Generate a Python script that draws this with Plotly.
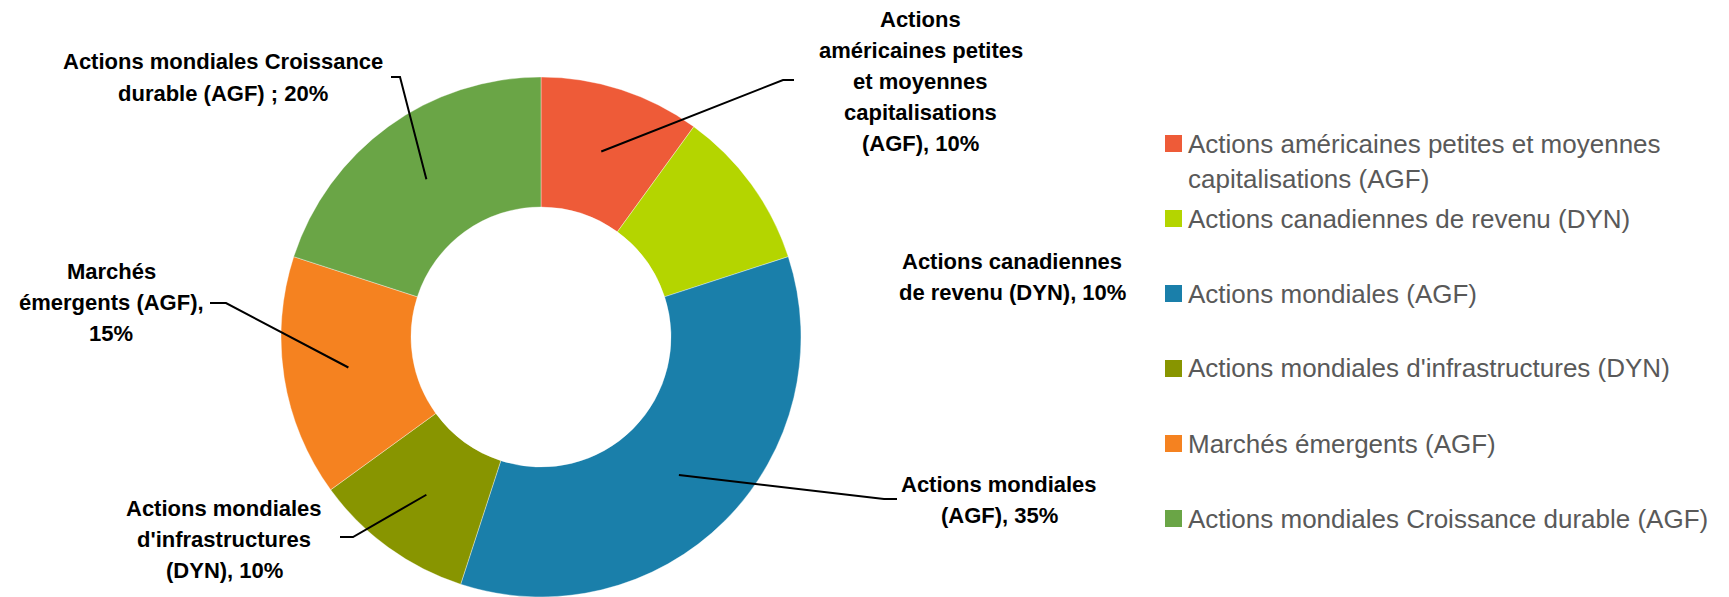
import math
import plotly.graph_objects as go

# screen window is 1729x597; the page body has an 8px margin
SW, SH, OFF = 1729, 597, 8
W, H = SW - OFF, SH - OFF

categories = [
    "Actions américaines petites et moyennes capitalisations (AGF)",
    "Actions canadiennes de revenu (DYN)",
    "Actions mondiales (AGF)",
    "Actions mondiales d'infrastructures (DYN)",
    "Marchés émergents (AGF)",
    "Actions mondiales Croissance durable (AGF)",
]
values = [10, 10, 35, 10, 15, 20]
colors = ["#EE5B38", "#B4D500", "#1A7FAA", "#889500", "#F58220", "#6AA546"]

legend_lines = [
    ["Actions américaines petites et moyennes", "capitalisations (AGF)"],
    ["Actions canadiennes de revenu (DYN)"],
    ["Actions mondiales (AGF)"],
    ["Actions mondiales d'infrastructures (DYN)"],
    ["Marchés émergents (AGF)"],
    ["Actions mondiales Croissance durable (AGF)"],
]
data_labels = [
    ["Actions", "américaines petites", "et moyennes", "capitalisations", "(AGF), 10%"],
    ["Actions canadiennes", "de revenu (DYN), 10%"],
    ["Actions mondiales", "(AGF), 35%"],
    ["Actions mondiales", "d'infrastructures", "(DYN), 10%"],
    ["Marchés", "émergents (AGF),", "15%"],
    ["Actions mondiales Croissance", "durable (AGF) ; 20%"],
]

# layout (screen pixels)
CX, CY, R = 541, 337, 260
label_pos = [(921, 81.5), (1012, 277), (999, 500), (224, 539.5), (111, 302), (223, 77.5)]
label_dy = 31
# leader line: elbow and end (None = no line)
leader = [((783, 80), (794, 80)), None, ((884, 499), (897, 499)),
          ((353, 537), (340, 537)), ((226, 303), (210, 303)), ((400, 77), (391, 77))]
leg_x, leg_y0, leg_dy = 1165, 143.5, 75

LABEL_FONT = dict(family="Liberation Sans, Arial, sans-serif", size=22, color="#000000", weight="bold")
LEGEND_FONT = dict(family="Liberation Sans, Arial, sans-serif", size=26, color="#595959")


def px(x):
    return (x - OFF) / W


def py(y):
    return 1 - (y - OFF) / H


def clamp(v):
    return min(1.0, max(0.0, v))


fig = go.Figure(go.Pie(
    labels=categories, values=values, sort=False, direction="clockwise", rotation=0,
    hole=0.5, textinfo="none", hoverinfo="label+percent",
    marker=dict(colors=colors, line=dict(color="rgba(255,255,255,0.6)", width=0.6)),
    domain=dict(x=[clamp(px(CX - R)), clamp(px(CX + R))],
                y=[clamp(py(CY + R)), clamp(py(CY - R))]),
    showlegend=False,
))

annotations = []
shapes = []
total = sum(values)
cum = 0
for i, v in enumerate(values):
    mid = (cum + v / 2) / total * 2 * math.pi
    cum += v
    lx, ly = label_pos[i]
    n = len(data_labels[i])
    for j, t in enumerate(data_labels[i]):
        annotations.append(dict(
            x=px(lx), y=py(ly + (j - (n - 1) / 2) * label_dy), xref="paper", yref="paper",
            text=t, showarrow=False, xanchor="center", yanchor="middle", align="center",
            font=LABEL_FONT,
        ))
    if leader[i] is not None:
        sx = CX + 0.75 * R * math.sin(mid)
        sy = CY - 0.75 * R * math.cos(mid)
        (ex, ey), (tx, ty) = leader[i]
        shapes.append(dict(
            type="path", xref="paper", yref="paper",
            path=f"M {px(sx)} {py(sy)} L {px(ex)} {py(ey)} L {px(tx)} {py(ty)}",
            line=dict(color="#000000", width=2),
        ))

# legend
for i, lines in enumerate(legend_lines):
    yc = leg_y0 + i * leg_dy
    shapes.append(dict(type="rect", xref="paper", yref="paper",
                       x0=px(leg_x), x1=px(leg_x + 17), y0=py(yc + 8.5), y1=py(yc - 8.5),
                       fillcolor=colors[i], line=dict(width=0)))
    for j, t in enumerate(lines):
        annotations.append(dict(
            x=px(leg_x + 21), y=py(yc + j * 35), xref="paper", yref="paper", text=t,
            showarrow=False, xanchor="left", yanchor="middle", align="left",
            font=LEGEND_FONT,
        ))

fig.update_layout(
    width=W, height=H, margin=dict(l=0, r=0, t=0, b=0),
    paper_bgcolor="white", plot_bgcolor="white",
    annotations=annotations, shapes=shapes,
)
fig.write_html("out.html")
